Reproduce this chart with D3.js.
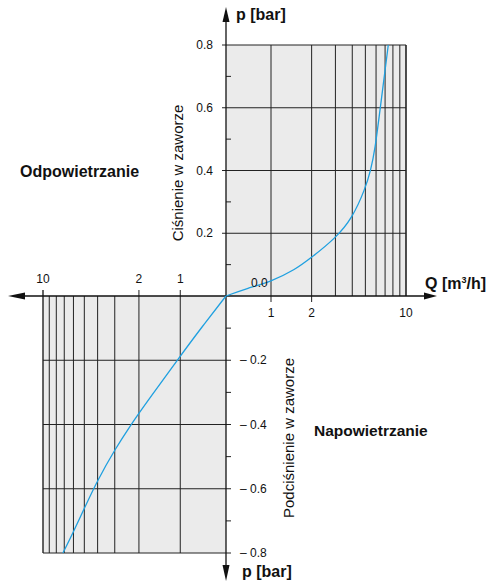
<!DOCTYPE html>
<html>
<head>
<meta charset="utf-8">
<script src="https://cdn.jsdelivr.net/npm/d3@7"></script>
<style>
  body { margin: 0; background: #fff; }
  text { font-family: "Liberation Sans", Arial, sans-serif; fill: #111; }
</style>
</head>
<body>
<div id="chart"></div>
<script>
// flow in m3/h vs pressure in bar, upper = venting, lower = aeration
var ventQ = [0, 0.66, 1, 1.5, 2, 3, 4, 5, 5.47, 5.89, 6.45, 7.39];
var ventP = [0, 0.024, 0.046, 0.083, 0.123, 0.184, 0.248, 0.343, 0.4, 0.465, 0.6, 0.8];
var aerQ = [0, 0.7, 1, 1.73, 2, 2.28, 3, 4, 5, 6, 7.16];
var aerP = [0, -0.098, -0.187, -0.327, -0.365, -0.4, -0.478, -0.573, -0.661, -0.734, -0.8];

var qGrid = [1, 2, 3, 4, 5, 6, 7, 8, 9, 10];
var qLabels = [1, 2, 10];
var pMajor = [0.2, 0.4, 0.6, 0.8];
var pMinor = [0.1, 0.3, 0.5, 0.7];

var svgWidth = 489, svgHeight = 582;
var ox = 226, oy = 296;
var qMin = Math.pow(10, -1 / 3);

var svg = d3.select("#chart").append("svg")
    .attr("width", svgWidth)
    .attr("height", svgHeight);

//scales for both quadrants
var xRight = d3.scaleLog().domain([qMin, 10]).range([ox, 406]);
var xLeft = d3.scaleLog().domain([qMin, 10]).range([ox, 43]);
var yUp = d3.scaleLinear().domain([0, 0.8]).range([oy, 45]);
var yDown = d3.scaleLinear().domain([0, -0.8]).range([oy, 553]);

var qx = q => Math.max(q, qMin);

//grey panels
svg.append("rect")
    .attr("x", ox).attr("y", yUp(0.8))
    .attr("width", xRight(10) - ox).attr("height", oy - yUp(0.8))
    .attr("fill", "#ebebeb");
svg.append("rect")
    .attr("x", xLeft(10)).attr("y", oy)
    .attr("width", ox - xLeft(10)).attr("height", yDown(-0.8) - oy)
    .attr("fill", "#ebebeb");

var grid = svg.append("g").attr("stroke", "#222").attr("stroke-width", 1);

//vertical grid lines
grid.selectAll(".vr").data(qGrid).enter().append("line")
    .attr("x1", d => xRight(d)).attr("x2", d => xRight(d))
    .attr("y1", yUp(0.8))
    .attr("y2", d => qLabels.includes(d) && d < 10 ? oy + 6 : oy)
    .attr("stroke-width", d => d == 10 ? 1.6 : 1);
grid.selectAll(".vl").data(qGrid).enter().append("line")
    .attr("x1", d => xLeft(d)).attr("x2", d => xLeft(d))
    .attr("y1", d => qLabels.includes(d) ? oy - 6 : oy)
    .attr("y2", yDown(-0.8))
    .attr("stroke-width", d => d == 10 ? 1.4 : 1);

//horizontal grid lines
grid.selectAll(".hu").data(pMajor).enter().append("line")
    .attr("x1", ox - 4).attr("x2", xRight(10))
    .attr("y1", d => yUp(d)).attr("y2", d => yUp(d));
grid.selectAll(".hd").data(pMajor).enter().append("line")
    .attr("x1", xLeft(10)).attr("x2", ox + 5)
    .attr("y1", d => yDown(-d)).attr("y2", d => yDown(-d));

//minor ticks
grid.selectAll(".mu").data(pMinor).enter().append("line")
    .attr("x1", ox).attr("x2", ox + 5)
    .attr("y1", d => yUp(d)).attr("y2", d => yUp(d));
grid.selectAll(".md").data(pMinor).enter().append("line")
    .attr("x1", ox).attr("x2", ox + 5)
    .attr("y1", d => yDown(-d)).attr("y2", d => yDown(-d));

//main axes with arrows
svg.append("line").attr("x1", 20).attr("x2", 426).attr("y1", oy).attr("y2", oy)
    .attr("stroke", "#111").attr("stroke-width", 1.3);
svg.append("line").attr("x1", ox).attr("x2", ox).attr("y1", 18).attr("y2", 568)
    .attr("stroke", "#111").attr("stroke-width", 1.3);
var arrows = [
    [[ox, 7], [ox - 3.5, 22], [ox + 3.5, 22]],
    [[ox, 581], [ox - 3.5, 565], [ox + 3.5, 565]],
    [[8, oy], [25, oy - 3.5], [25, oy + 3.5]],
    [[437, oy], [424, oy - 3.5], [424, oy + 3.5]]
];
svg.selectAll(".arrow").data(arrows).enter().append("path")
    .attr("d", d => "M" + d.join("L") + "Z")
    .attr("fill", "#111");

//curves, smoothed with a b-spline
var line = d3.line().curve(d3.curveBasis);
var ventPts = ventQ.map((q, i) => [xRight(qx(q)), yUp(ventP[i])]);
var aerPts = aerQ.map((q, i) => [xLeft(qx(q)), yDown(aerP[i])]);
svg.append("path")
    .attr("d", line(ventPts))
    .attr("fill", "none").attr("stroke", "#1fa0e0").attr("stroke-width", 1.3);
svg.append("path")
    .attr("d", line(aerPts))
    .attr("fill", "none").attr("stroke", "#1fa0e0").attr("stroke-width", 1.3);

//tick labels
svg.selectAll(".qr").data(qLabels).enter().append("text")
    .attr("x", d => xRight(d)).attr("y", oy + 21)
    .attr("text-anchor", "middle").attr("font-size", "12px")
    .text(d => d);
svg.selectAll(".ql").data(qLabels).enter().append("text")
    .attr("x", d => xLeft(d)).attr("y", oy - 13)
    .attr("text-anchor", "middle").attr("font-size", "12px")
    .text(d => d);
svg.selectAll(".pu").data(pMajor).enter().append("text")
    .attr("x", 213).attr("y", d => yUp(d) + 4)
    .attr("text-anchor", "end").attr("font-size", "12px")
    .text(d => d.toFixed(1));
svg.selectAll(".pd").data(pMajor).enter().append("text")
    .attr("x", 240).attr("y", d => yDown(-d) + 4)
    .attr("font-size", "12px")
    .text(d => "\u2013 " + d.toFixed(1));
svg.append("text").attr("x", 251).attr("y", 287)
    .attr("font-size", "12px").text("0.0");

//axis titles
svg.append("text").attr("x", 236).attr("y", 20)
    .attr("font-size", "16px").attr("font-weight", "bold").text("p [bar]");
svg.append("text").attr("x", 242).attr("y", 577)
    .attr("font-size", "16px").attr("font-weight", "bold").text("p [bar]");
var qt = svg.append("text").attr("x", 425).attr("y", 289)
    .attr("font-size", "16px").attr("font-weight", "bold");
qt.append("tspan").text("Q [m");
qt.append("tspan").attr("dy", -6).attr("font-size", "9px").text("3");
qt.append("tspan").attr("dy", 6).text("/h]");

svg.append("text")
    .attr("transform", "translate(183,173) rotate(-90)")
    .attr("text-anchor", "middle").attr("font-size", "15px")
    .text("Ciśnienie w zaworze");
svg.append("text")
    .attr("transform", "translate(294,438) rotate(-90)")
    .attr("text-anchor", "middle").attr("font-size", "15px")
    .text("Podciśnienie w zaworze");

svg.append("text").attr("x", 20).attr("y", 177)
    .attr("font-size", "16px").attr("font-weight", "bold").text("Odpowietrzanie");
svg.append("text").attr("x", 314).attr("y", 436)
    .attr("font-size", "15.5px").attr("font-weight", "bold").text("Napowietrzanie");
</script>
</body>
</html>
